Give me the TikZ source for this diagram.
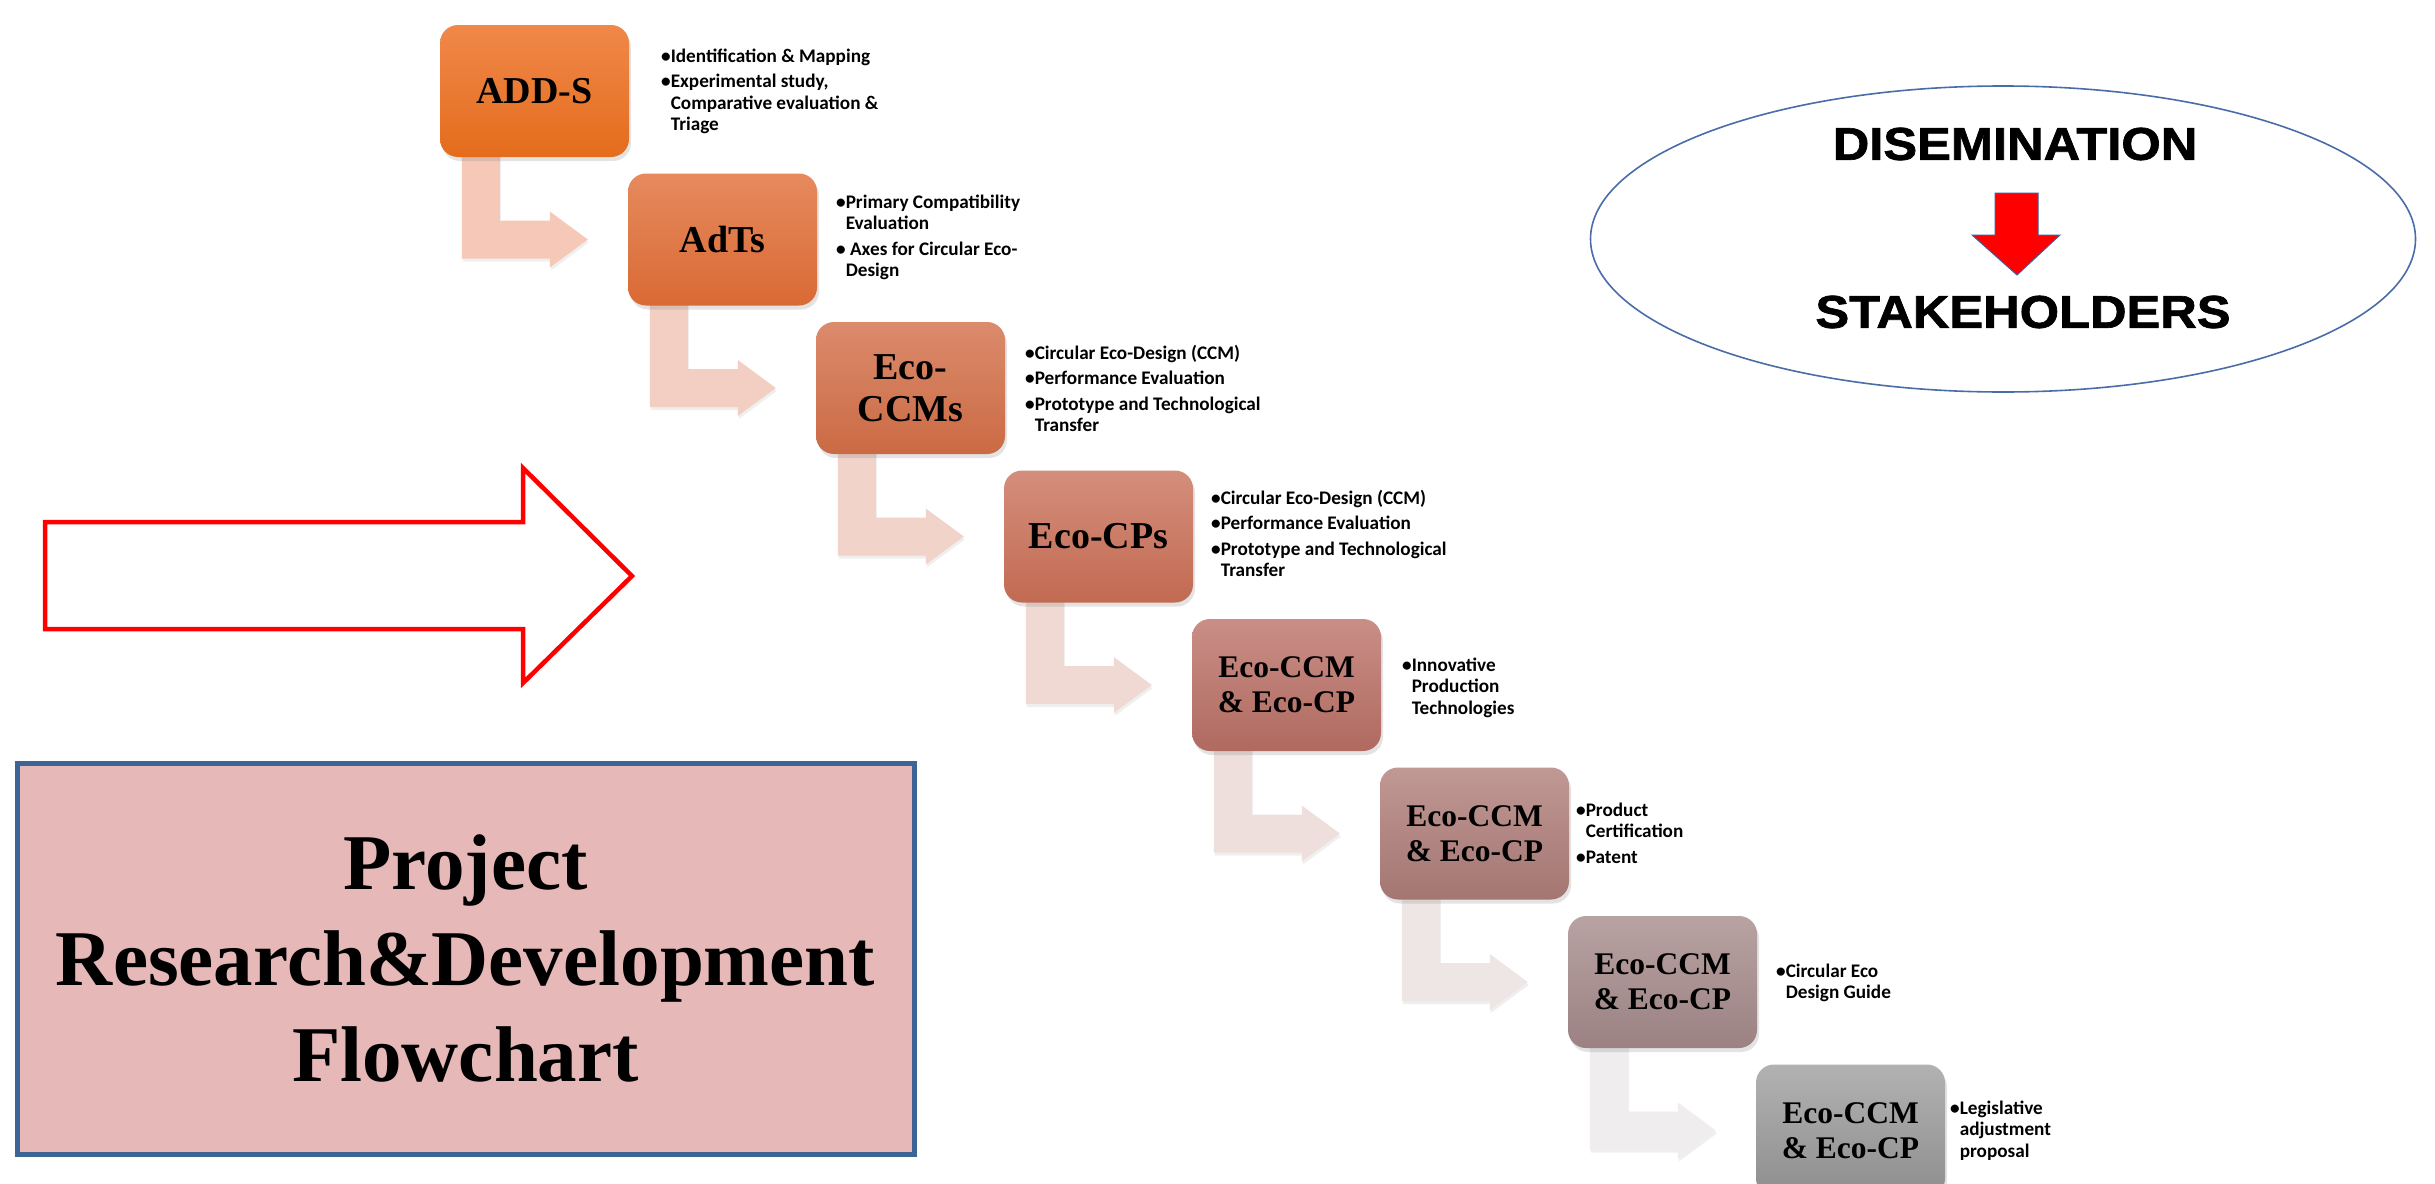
\documentclass[tikz,border=0pt]{standalone}
\usepackage{fontspec}
\setmainfont{Liberation Serif}
\newfontfamily\calibfont{Carlito}
\newfontfamily\heavyfont[FakeBold=1.4]{Liberation Sans Bold}
\usetikzlibrary{calc,shadows,shapes.geometric}
\pgfdeclarelayer{back}
\pgfdeclarelayer{bg}
\pgfsetlayers{back,bg,main}

\definecolor{b1t}{HTML}{F0884A}\definecolor{b1b}{HTML}{E46C1C}
\definecolor{b2t}{HTML}{E68A5E}\definecolor{b2b}{HTML}{D96A34}
\definecolor{b3t}{HTML}{DB8B6C}\definecolor{b3b}{HTML}{CB6A44}
\definecolor{b4t}{HTML}{D48E7C}\definecolor{b4b}{HTML}{C26A52}
\definecolor{b5t}{HTML}{C98E86}\definecolor{b5b}{HTML}{B06A60}
\definecolor{b6t}{HTML}{C09894}\definecolor{b6b}{HTML}{A47672}
\definecolor{b7t}{HTML}{B8A2A2}\definecolor{b7b}{HTML}{9C8282}
\definecolor{b8t}{HTML}{B2B2B2}\definecolor{b8b}{HTML}{8E8E8E}
\definecolor{a1}{HTML}{F5C8B8}
\definecolor{a2}{HTML}{F3CEC2}
\definecolor{a3}{HTML}{F1D3CA}
\definecolor{a4}{HTML}{F0D9D3}
\definecolor{a5}{HTML}{EFDFDC}
\definecolor{a6}{HTML}{EEE6E5}
\definecolor{a7}{HTML}{EFEDED}
\definecolor{ellblue}{HTML}{4A6CA8}
\definecolor{titlefill}{HTML}{E6B8B7}
\definecolor{titleline}{HTML}{3E6496}
\definecolor{arrowline}{HTML}{4060A0}

\newcommand\bentarr[3]{%
  \fill[#3, drop shadow={opacity=0.12, shadow xshift=1pt, shadow yshift=-3pt}]
    let \p1=(#1.south west), \p2=(#2.west) in
    (\x1+22pt,\y1+6pt) -- (\x1+22pt,\y2-19pt) -- (\x1+110pt,\y2-19pt)
    -- (\x1+110pt,\y2-28pt) -- (\x1+148pt,\y2) -- (\x1+110pt,\y2+28pt)
    -- (\x1+110pt,\y2+19pt) -- (\x1+60pt,\y2+19pt) -- (\x1+60pt,\y1+6pt) -- cycle;}

\begin{document}
\begin{tikzpicture}[x=1pt,y=-1pt,
  stage/.style={rounded corners=18pt, minimum width=189pt, minimum height=132pt,
    inner sep=0pt, align=center, font=\bfseries\fontsize{38}{42}\selectfont,
    drop shadow={opacity=0.22, shadow xshift=2pt, shadow yshift=-4pt}},
  stagesm/.style={stage, font=\bfseries\fontsize{31.5}{35}\selectfont},
  notes/.style={anchor=base west, inner sep=0pt,
    font=\calibfont\bfseries\fontsize{19.2}{21.5}\selectfont},
  bigword/.style={inner sep=0pt, font=\heavyfont\fontsize{46}{46}\selectfont}
]
\begin{pgfonlayer}{back}
\fill[white] (0,0) rectangle (2435,1183);
\end{pgfonlayer}
\clip (0,0) rectangle (2435,1183);

% stage boxes
\node[stage, top color=b1t, bottom color=b1b] (b1) at (534.5,91) {ADD-S};
\node[stage, top color=b2t, bottom color=b2b] (b2) at (722.5,239.5) {AdTs};
\node[stage, top color=b3t, bottom color=b3b] (b3) at (910.5,388) {Eco-\\CCMs};
\node[stage, top color=b4t, bottom color=b4b] (b4) at (1098.5,536.5) {Eco-CPs};
\node[stagesm, top color=b5t, bottom color=b5b] (b5) at (1286.5,685) {Eco-CCM\\\& Eco-CP};
\node[stagesm, top color=b6t, bottom color=b6b] (b6) at (1474.5,833.5) {Eco-CCM\\\& Eco-CP};
\node[stagesm, top color=b7t, bottom color=b7b] (b7) at (1662.5,982) {Eco-CCM\\\& Eco-CP};
\node[stagesm, top color=b8t, bottom color=b8b] (b8) at (1850.5,1130.5) {Eco-CCM\\\& Eco-CP};

% bent arrows
\begin{pgfonlayer}{bg}
\bentarr{b1}{b2}{a1}
\bentarr{b2}{b3}{a2}
\bentarr{b3}{b4}{a3}
\bentarr{b4}{b5}{a4}
\bentarr{b5}{b6}{a5}
\bentarr{b6}{b7}{a6}
\bentarr{b7}{b8}{a7}
\end{pgfonlayer}

% bullet notes
\node[notes] (t1) at (661,62) {\begin{tabular}[t]{@{}l@{}l@{}}
•&Identification \& Mapping\\[4pt]
•&Experimental study,\\
&Comparative evaluation \&\\
&Triage\end{tabular}};
\node[notes] (t2) at (836,208) {\begin{tabular}[t]{@{}l@{}l@{}}
•&Primary Compatibility\\
&Evaluation\\[4pt]
•&\ Axes for Circular Eco-\\
&Design\end{tabular}};
\node[notes] (t3) at (1025,359) {\begin{tabular}[t]{@{}l@{}l@{}}
•&Circular Eco-Design (CCM)\\[4pt]
•&Performance Evaluation\\[4pt]
•&Prototype and Technological\\
&Transfer\end{tabular}};
\node[notes] (t4) at (1211,504) {\begin{tabular}[t]{@{}l@{}l@{}}
•&Circular Eco-Design (CCM)\\[4pt]
•&Performance Evaluation\\[4pt]
•&Prototype and Technological\\
&Transfer\end{tabular}};
\node[notes] (t5) at (1402,671) {\begin{tabular}[t]{@{}l@{}l@{}}
•&Innovative\\
&Production\\
&Technologies\end{tabular}};
\node[notes] (t6) at (1576,816) {\begin{tabular}[t]{@{}l@{}l@{}}
•&Product\\
&Certification\\[4pt]
•&Patent\end{tabular}};
\node[notes] (t7) at (1776,977) {\begin{tabular}[t]{@{}l@{}l@{}}
•&Circular Eco\\
&Design Guide\end{tabular}};
\node[notes] (t8) at (1950,1114) {\begin{tabular}[t]{@{}l@{}l@{}}
•&Legislative\\
&adjustment\\
&proposal\end{tabular}};

% dissemination ellipse
\node[ellipse, draw=ellblue, line width=1.6pt, minimum width=825pt,
  minimum height=306pt, inner sep=0pt] (ell) at (2003,239) {};
\node[bigword] (dis) at (2015,144) {\scalebox{1.1}[1]{DISEMINATION}};
\node[bigword] (stk) at (2023,312) {\scalebox{1.1}[1]{STAKEHOLDERS}};
\filldraw[fill=red, draw=arrowline, line width=1pt]
  (1995,193) -- (2038,193) -- (2038,235) -- (2060,235) -- (2017,275)
  -- (1972,235) -- (1995,235) -- cycle;

% big outlined arrow
\draw[red, line width=4.5pt, miter limit=10]
  (45,522) -- (523,522) -- (523,468) -- (632,576) -- (523,683)
  -- (523,629) -- (45,629) -- cycle;

% title box
\node[draw=titleline, fill=titlefill, line width=5pt, minimum width=897pt,
  minimum height=391pt, inner sep=0pt, align=center,
  font=\bfseries\fontsize{79}{96}\selectfont] (title) at (465.5,958.5)
  {Project\\Research\&Development\\Flowchart};
\end{tikzpicture}
\end{document}
